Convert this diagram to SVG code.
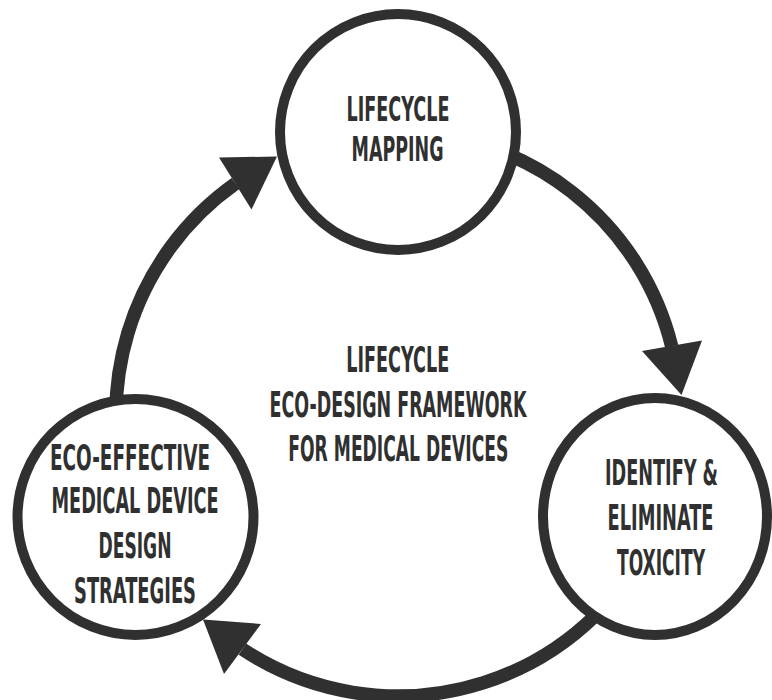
<svg xmlns="http://www.w3.org/2000/svg" width="772" height="700" viewBox="0 0 772 700">
  <style>
    .arc { fill: none; stroke: #303030; stroke-width: 13.5; }
    .node { fill: #ffffff; stroke: #303030; stroke-width: 10; }
    .head { fill: #303030; }
    .t { font-family: "DejaVu Sans Condensed", "DejaVu Sans", "Liberation Sans", sans-serif; font-stretch: condensed; font-weight: bold; font-size: 35.5px; fill: #303030; text-anchor: middle; }
    .s { font-size: 34px; }
  </style>
  <rect width="772" height="700" fill="#ffffff"/>
  <g id="connectors">
    <path class="arc" d="M398,132 A282,282 0 0 1 671.7,346.3"/>
    <path class="arc" d="M660.6,516.9 A282,282 0 0 1 242.4,649.2"/>
    <path class="arc" d="M135.4,516.9 A282,282 0 0 1 235.5,183.6"/>
  </g>
  <g id="node-lifecycle-mapping">
    <circle class="node" cx="398" cy="132" r="118"/>
    <text class="t s" transform="translate(398,120.5) scale(0.55,1)" textLength="187.3" lengthAdjust="spacingAndGlyphs">LIFECYCLE</text>
    <text class="t s" transform="translate(397.5,160.5) scale(0.55,1)" textLength="167.3" lengthAdjust="spacingAndGlyphs">MAPPING</text>
  </g>
  <g id="node-identify-toxicity">
    <ellipse class="node" cx="655" cy="516.5" rx="112" ry="118.5"/>
    <text class="t" transform="translate(661.5,485) scale(0.55,1)" textLength="205.5" lengthAdjust="spacingAndGlyphs">IDENTIFY &amp;</text>
    <text class="t" transform="translate(660.5,530) scale(0.55,1)" textLength="192.7" lengthAdjust="spacingAndGlyphs">ELIMINATE</text>
    <text class="t" transform="translate(661,575) scale(0.55,1)" textLength="160" lengthAdjust="spacingAndGlyphs">TOXICITY</text>
  </g>
  <g id="node-eco-effective">
    <circle class="node" cx="135.5" cy="517" r="118"/>
    <text class="t" transform="translate(130,470) scale(0.55,1)" textLength="290.9" lengthAdjust="spacingAndGlyphs">ECO-EFFECTIVE</text>
    <text class="t" transform="translate(135,513) scale(0.55,1)" textLength="303.6" lengthAdjust="spacingAndGlyphs">MEDICAL DEVICE</text>
    <text class="t" transform="translate(135,558) scale(0.55,1)" textLength="132.7" lengthAdjust="spacingAndGlyphs">DESIGN</text>
    <text class="t" transform="translate(135,603) scale(0.55,1)" textLength="221.8" lengthAdjust="spacingAndGlyphs">STRATEGIES</text>
  </g>
  <g id="arrowheads">
    <polygon class="head" points="219,157.5 277,156.5 251.5,209.5"/>
    <polygon class="head" points="642,351 702,340.5 681.5,395"/>
    <polygon class="head" points="203,619.5 261,624 224,674"/>
  </g>
  <g id="center-title">
    <text class="t" transform="translate(397.7,371.5) scale(0.55,1)" textLength="187.3" lengthAdjust="spacingAndGlyphs">LIFECYCLE</text>
    <text class="t" transform="translate(398,417) scale(0.55,1)" textLength="467.3" lengthAdjust="spacingAndGlyphs">ECO-DESIGN FRAMEWORK</text>
    <text class="t" transform="translate(398.3,461) scale(0.55,1)" textLength="400" lengthAdjust="spacingAndGlyphs">FOR MEDICAL DEVICES</text>
  </g>
</svg>
